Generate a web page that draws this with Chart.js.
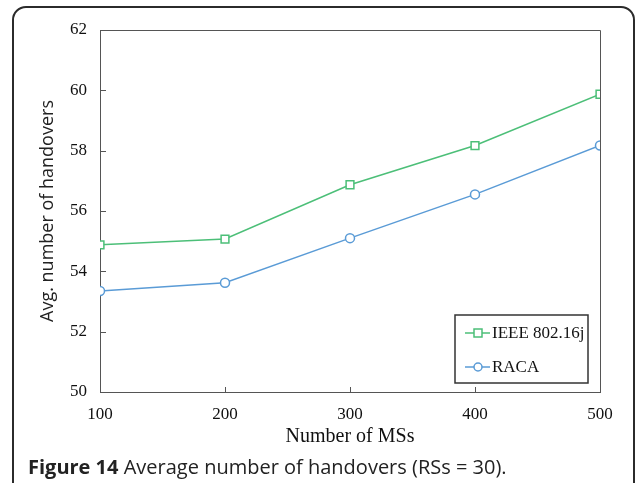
<!DOCTYPE html>
<html>
<head>
<meta charset="utf-8">
<script src="https://cdn.jsdelivr.net/npm/chart.js@4.4.0/dist/chart.umd.min.js"></script>
<style>
  html, body { margin: 0; padding: 0; background: #fff; overflow: hidden; }
  #wrap { position: relative; width: 636px; height: 483px; }
  #chart { position: absolute; left: 0; top: 0; }
  .frame {
    position: absolute; left: 12px; top: 6px; width: 623px; height: 600px;
    box-sizing: border-box; border: 2px solid #2b2b2b; border-radius: 14px;
  }
  .caption {
    position: absolute; left: 28px; top: 453px;
    font-family: "Open Sans", sans-serif; font-size: 20px; line-height: 28px; color: #222;
    white-space: nowrap;
  }
  .caption b { font-weight: 700; }
</style>
</head>
<body>
<div id="wrap">
  <canvas id="chart" width="636" height="483"></canvas>
  <div class="frame"></div>
  <div class="caption"><b>Figure 14</b> Average number of handovers (RSs = 30).</div>
</div>
<script>
// values
const msCounts = [100, 200, 300, 400, 500];
const ieeeHandovers = [54.88, 55.07, 56.87, 58.17, 59.87];
const racaHandovers = [53.35, 53.62, 55.1, 56.55, 58.17];
const xTicks = [100, 200, 300, 400, 500];
const yTicks = [50, 52, 54, 56, 58, 60, 62];
const seriesNames = ['IEEE 802.16j', 'RACA'];

const green = '#4cbf78';
const blue = '#5a9bd6';
const axisColor = '#555';
const serif = '"Liberation Serif", "Times New Roman", serif';

// box around the plot, inward ticks and the framed legend
const decorations = {
    id: 'decorations',
    afterDraw(chart) {
        const ctx = chart.ctx;
        const area = chart.chartArea;
        const xs = chart.scales.x;
        const ys = chart.scales.y;
        ctx.save();
        ctx.strokeStyle = axisColor;
        ctx.lineWidth = 1;
        ctx.beginPath();
        ctx.moveTo(area.left, area.top + 0.5);
        ctx.lineTo(area.right + 0.5, area.top + 0.5);
        ctx.lineTo(area.right + 0.5, area.bottom);
        ctx.stroke();
        // ticks point into the plot
        xTicks.slice(1, -1).forEach(v => {
            const px = Math.round(xs.getPixelForValue(v)) + 0.5;
            ctx.beginPath();
            ctx.moveTo(px, area.bottom);
            ctx.lineTo(px, area.bottom - 5);
            ctx.stroke();
        });
        yTicks.slice(1, -1).forEach(v => {
            const py = Math.round(ys.getPixelForValue(v)) + 0.5;
            ctx.beginPath();
            ctx.moveTo(area.left, py);
            ctx.lineTo(area.left + 6, py);
            ctx.stroke();
        });

        // legend
        const lx = 455, ly = 315, lw = 133, lh = 68;
        ctx.strokeStyle = '#333';
        ctx.lineWidth = 1.5;
        ctx.strokeRect(lx, ly, lw, lh);
        ctx.font = '17px ' + serif;
        ctx.textBaseline = 'middle';
        chart.data.datasets.forEach((ds, i) => {
            const y = ly + 18 + i * 34;
            ctx.strokeStyle = ds.borderColor;
            ctx.lineWidth = 1.5;
            ctx.beginPath();
            ctx.moveTo(lx + 10, y);
            ctx.lineTo(lx + 35, y);
            ctx.stroke();
            ctx.beginPath();
            if (ds.pointStyle === 'rect') {
                ctx.rect(lx + 19, y - 4, 8, 8);
            } else {
                ctx.arc(lx + 23, y, 4, 0, Math.PI * 2);
            }
            ctx.fillStyle = '#fff';
            ctx.fill();
            ctx.stroke();
            ctx.fillStyle = '#111';
            ctx.fillText(ds.label, lx + 37, y + 1);
        });
        ctx.restore();
    }
};

new Chart(document.getElementById('chart'), {
    type: 'line',
    data: {
        datasets: [
            {
                label: seriesNames[0],
                data: msCounts.map((x, i) => ({ x: x, y: ieeeHandovers[i] })),
                borderColor: green,
                backgroundColor: '#fff',
                borderWidth: 1.5,
                pointStyle: 'rect',
                pointRadius: 5.5,
                pointBorderWidth: 1.5,
                tension: 0
            },
            {
                label: seriesNames[1],
                data: msCounts.map((x, i) => ({ x: x, y: racaHandovers[i] })),
                borderColor: blue,
                backgroundColor: '#fff',
                borderWidth: 1.5,
                pointStyle: 'circle',
                pointRadius: 4.5,
                pointBorderWidth: 1.5,
                tension: 0
            }
        ]
    },
    options: {
        responsive: false,
        animation: false,
        layout: { padding: { left: 37, top: 30, right: 36, bottom: 34 } },
        plugins: { legend: { display: false }, tooltip: { enabled: false } },
        scales: {
            x: {
                type: 'linear',
                min: 100,
                max: 500,
                afterFit(scale) { scale.height = 57; },
                afterBuildTicks(scale) { scale.ticks = xTicks.map(v => ({ value: v })); },
                grid: { display: false, drawTicks: false },
                border: { display: true, color: axisColor, width: 1 },
                ticks: { color: '#111', padding: 12, font: { family: serif, size: 17 } },
                title: {
                    display: true,
                    text: 'Number of MSs',
                    color: '#111',
                    padding: 0,
                    font: { family: serif, size: 20 }
                }
            },
            y: {
                min: 50,
                max: 62,
                afterFit(scale) { scale.width = 63; },
                afterBuildTicks(scale) { scale.ticks = yTicks.map(v => ({ value: v })); },
                grid: { display: false, drawTicks: false },
                border: { display: true, color: axisColor, width: 1 },
                ticks: { color: '#111', padding: 13, font: { family: serif, size: 17 } },
                title: {
                    display: true,
                    text: 'Avg. number of handovers',
                    color: '#222',
                    padding: 0,
                    font: { family: '"Open Sans", sans-serif', size: 18 }
                }
            }
        }
    },
    plugins: [decorations]
});
</script>
</body>
</html>
